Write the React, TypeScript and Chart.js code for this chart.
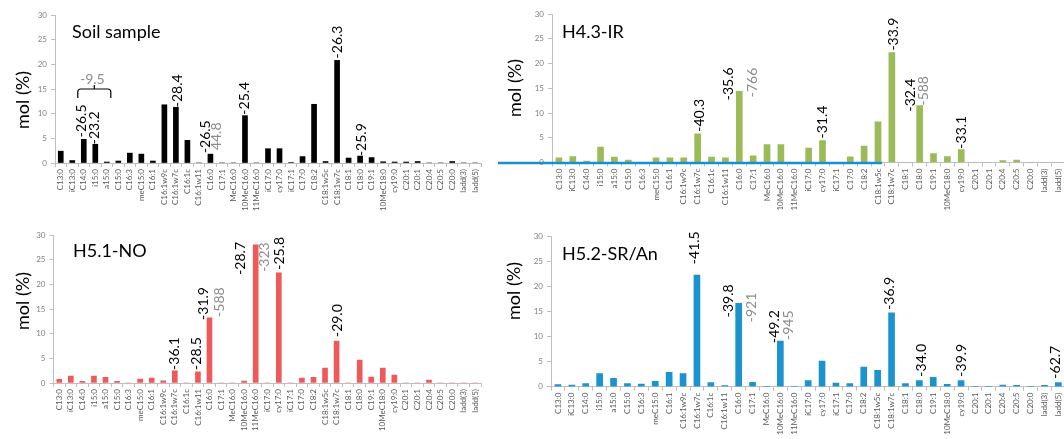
import React, { useEffect, useRef } from 'react';
import { Chart, registerables } from 'chart.js';

Chart.register(...registerables);

// ---------- data ----------
const categories = [
  'C13:0', 'iC13:0', 'C14:0', 'i15:0', 'a15:0', 'C15:0', 'C16:3', 'meC15:0', 'C16:1', 'C16:1w9c',
  'C16:1w7c', 'C16:1c', 'C16:1w11', 'C16:0', 'C17:1', 'MeC16:0', '10MeC16:0', '11MeC16:0', 'iC17:0', 'cy17:0',
  'iC17:1', 'C17:0', 'C18:2', 'C18:1w5c', 'C18:1w7c', 'C18:1', 'C18:0', 'C19:1', '10MeC18:0', 'cy19:0',
  'C20:1', 'C20:1', 'C20:4', 'C20:5', 'C20:0', 'ladd(3)', 'ladd(5)',
];

const yTicks = [0, 5, 10, 15, 20, 25, 30];

const soilValues = [2.4, 0.5, 4.8, 3.8, 0.2, 0.4, 2.0, 1.8, 0.4, 11.8, 11.3, 4.6, 0, 1.8, 0, 0, 9.6, 0, 2.9, 2.9, 0.1, 1.3, 11.9, 0.3, 20.8, 1.0, 1.4, 1.1, 0.25, 0.2, 0.2, 0.3, 0, 0, 0.3, 0, 0];
const h43Values = [0.95, 1.2, 0.3, 3.1, 1.1, 0.5, 0, 0.95, 0.95, 0.95, 5.8, 1.1, 0.95, 14.4, 1.35, 3.6, 3.6, 0, 2.9, 4.45, 0, 1.15, 3.3, 8.2, 22.2, 0, 11.5, 1.8, 1.2, 2.6, 0, 0, 0.4, 0.5, 0, 0, 0];
const h51Values = [0.75, 1.4, 0.35, 1.4, 1.15, 0.35, 0, 0.8, 1.0, 0.45, 2.45, 0, 2.25, 13.2, 0, 0, 0.4, 28.0, 0, 22.35, 0, 1.0, 1.15, 3.0, 8.5, 0, 4.65, 1.2, 3.0, 1.6, 0, 0, 0.6, 0, 0, 0, 0];
const h52Values = [0.4, 0.3, 0.6, 2.6, 1.65, 0.6, 0.5, 1.05, 2.85, 2.6, 22.2, 0.8, 0.2, 16.6, 0.85, 0, 9.1, 0, 1.2, 5.1, 0.7, 0.6, 3.9, 3.25, 14.7, 0.6, 1.2, 1.85, 0.45, 1.2, 0, 0, 0.3, 0.25, 0, 0.25, 0.8];

type Note = { cat: string; text: string; tone: 'dark' | 'light' };

const soilNotes: Note[] = [
  { cat: 'C14:0', text: '-26.5', tone: 'dark' },
  { cat: 'i15:0', text: '-23.2', tone: 'dark' },
  { cat: 'C16:1w7c', text: '-28.4', tone: 'dark' },
  { cat: 'C16:0', text: '-26.5', tone: 'dark' },
  { cat: 'C16:0', text: '44.8', tone: 'light' },
  { cat: '10MeC16:0', text: '-25.4', tone: 'dark' },
  { cat: 'C18:1w7c', text: '-26.3', tone: 'dark' },
  { cat: 'C18:0', text: '-25.9', tone: 'dark' },
];
const soilGroupNote = { from: 'C14:0', to: 'a15:0', text: '-9.5', level: 15 };

const h43Notes: Note[] = [
  { cat: 'C16:1w7c', text: '-40.3', tone: 'dark' },
  { cat: 'C16:0', text: '-35.6', tone: 'dark' },
  { cat: 'C16:0', text: '-766', tone: 'light' },
  { cat: 'cy17:0', text: '-31.4', tone: 'dark' },
  { cat: 'C18:1w7c', text: '-33.9', tone: 'dark' },
  { cat: 'C18:0', text: '-32.4', tone: 'dark' },
  { cat: 'C18:0', text: '-588', tone: 'light' },
  { cat: 'cy19:0', text: '-33.1', tone: 'dark' },
];

const h51Notes: Note[] = [
  { cat: 'C16:1w7c', text: '-36.1', tone: 'dark' },
  { cat: 'C16:1w11', text: '-28.5', tone: 'dark' },
  { cat: 'C16:0', text: '-31.9', tone: 'dark' },
  { cat: 'C16:0', text: '-588', tone: 'light' },
  { cat: '11MeC16:0', text: '-28.7', tone: 'dark' },
  { cat: '11MeC16:0', text: '-323', tone: 'light' },
  { cat: 'cy17:0', text: '-25.8', tone: 'dark' },
  { cat: 'C18:1w7c', text: '-29.0', tone: 'dark' },
];

const h52Notes: Note[] = [
  { cat: 'C16:1w7c', text: '-41.5', tone: 'dark' },
  { cat: 'C16:0', text: '-39.8', tone: 'dark' },
  { cat: 'C16:0', text: '-921', tone: 'light' },
  { cat: '10MeC16:0', text: '-49.2', tone: 'dark' },
  { cat: '10MeC16:0', text: '-945', tone: 'light' },
  { cat: 'C18:1w7c', text: '-36.9', tone: 'dark' },
  { cat: 'C18:0', text: '-34.0', tone: 'dark' },
  { cat: 'cy19:0', text: '-39.9', tone: 'dark' },
  { cat: 'ladd(5)', text: '-62.7', tone: 'dark' },
];

// ---------- layout (pixel placement only) ----------
// note offsets: [dx from bar centre, gap between bar top and text start]
const soilNoteOffsets = [[-2, 2], [-1, 0], [2, 0], [-5, 1], [6, 4], [0, 1], [0, 2], [1, 0]];
const h43NoteOffsets = [[2, 2], [-11, -9], [13, -6], [0, 2], [2, 2], [-9, -6], [4, 0], [0, 1]];
const h51NoteOffsets = [[0, 1], [-1, 2], [-6, -2], [10, 1], [-15, -30], [9, -27], [1, 3], [1, 4]];
const h52NoteOffsets = [[-2, 11], [-10, -14], [13, -19], [-6, -2], [8, 1], [-2, 3], [2, 4], [0, 4], [-3, 4]];

const FONT = 'Lato, "Open Sans", "DejaVu Sans", sans-serif';
const AXIS_COLOR = '#bfbfbf';
const DARK_NOTE = '#000000';
const LIGHT_NOTE = '#8c8c8c';

type PanelCfg = {
  key: string;
  title: string;
  values: number[];
  color: string;
  notes: Note[];
  offsets: number[][];
  box: { left: number; top: number; width: number; height: number };
  area: { left: number; right: number; top: number; bottom: number };
  titlePos: [number, number];
  yTitlePos: [number, number];
  barWidth: number;
  group?: typeof soilGroupNote;
  underline?: { from: number; toCat: string; color: string };
};

const panels: PanelCfg[] = [
  {
    key: 'soil', title: 'Soil sample', values: soilValues, color: '#000000',
    notes: soilNotes, offsets: soilNoteOffsets,
    box: { left: 0, top: 0, width: 490, height: 220 },
    area: { left: 55, right: 481, top: 15, bottom: 163 },
    titlePos: [72, 32], yTitlePos: [23, 100], barWidth: 5, group: soilGroupNote,
  },
  {
    key: 'h43', title: 'H4.3-IR', values: h43Values, color: '#9bbb59',
    notes: h43Notes, offsets: h43NoteOffsets,
    box: { left: 490, top: 0, width: 580, height: 220 },
    area: { left: 62, right: 576, top: 14, bottom: 162.5 },
    titlePos: [72, 32], yTitlePos: [25, 88], barWidth: 6,
    underline: { from: -54, toCat: 'C18:1w5c', color: '#1a8fd0' },
  },
  {
    key: 'h51', title: 'H5.1-NO', values: h51Values, color: '#ee5a5a',
    notes: h51Notes, offsets: h51NoteOffsets,
    box: { left: 0, top: 220, width: 490, height: 219 },
    area: { left: 53.5, right: 481, top: 15, bottom: 163 },
    titlePos: [73, 31], yTitlePos: [23, 81], barWidth: 5,
  },
  {
    key: 'h52', title: 'H5.2-SR/An', values: h52Values, color: '#1b93d0',
    notes: h52Notes, offsets: h52NoteOffsets,
    box: { left: 490, top: 220, width: 580, height: 219 },
    area: { left: 61, right: 576.4, top: 16, bottom: 166.7 },
    titlePos: [72, 34], yTitlePos: [24, 71], barWidth: 6,
  },
];

function makeOverlay(cfg: PanelCfg) {
  return {
    id: 'overlay_' + cfg.key,
    afterDatasetsDraw(chart: any) {
      const ctx: CanvasRenderingContext2D = chart.ctx;
      const xs = chart.scales.x;
      const ys = chart.scales.y;
      const xOf = (cat: string) => xs.getPixelForValue(categories.indexOf(cat));
      const valOf = (cat: string) => cfg.values[categories.indexOf(cat)];
      ctx.save();

      // underline artefact
      if (cfg.underline) {
        const y0 = ys.getPixelForValue(0);
        ctx.strokeStyle = cfg.underline.color;
        ctx.lineWidth = 2.5;
        ctx.beginPath();
        ctx.moveTo(chart.chartArea.left + cfg.underline.from, y0 + 0.5);
        ctx.lineTo(xOf(cfg.underline.toCat) + 4, y0 + 0.5);
        ctx.stroke();
      }

      // panel title
      ctx.fillStyle = '#000';
      ctx.font = `18px ${FONT}`;
      ctx.textAlign = 'left';
      ctx.textBaseline = 'middle';
      ctx.fillText(cfg.title, cfg.titlePos[0], cfg.titlePos[1]);

      // y axis title
      ctx.save();
      ctx.translate(cfg.yTitlePos[0], cfg.yTitlePos[1]);
      ctx.rotate(-Math.PI / 2);
      ctx.textAlign = 'center';
      ctx.textBaseline = 'middle';
      ctx.font = `18px ${FONT}`;
      ctx.fillText('mol (%)', 0, 0);
      ctx.restore();

      // rotated notes
      ctx.font = `14px ${FONT}`;
      cfg.notes.forEach((n, i) => {
        const [dx, gap] = cfg.offsets[i] || [0, 2];
        const x = xOf(n.cat) + dx;
        const y = ys.getPixelForValue(valOf(n.cat)) - gap;
        ctx.save();
        ctx.translate(x, y);
        ctx.rotate(-Math.PI / 2);
        ctx.textAlign = 'left';
        ctx.textBaseline = 'middle';
        ctx.fillStyle = n.tone === 'dark' ? DARK_NOTE : LIGHT_NOTE;
        ctx.fillText(n.text, 0, 0);
        ctx.restore();
      });

      // grouped note with bracket
      if (cfg.group) {
        const g = cfg.group;
        const x1 = xOf(g.from) - 6;
        const x2 = xOf(g.to) + 4;
        const yl = ys.getPixelForValue(g.level);
        const xm = (x1 + x2) / 2;
        ctx.strokeStyle = '#000';
        ctx.lineWidth = 1.2;
        ctx.beginPath();
        ctx.moveTo(x1, yl + 9);
        ctx.lineTo(x1, yl + 3);
        ctx.quadraticCurveTo(x1, yl, x1 + 3, yl);
        ctx.lineTo(x2 - 3, yl);
        ctx.quadraticCurveTo(x2, yl, x2, yl + 3);
        ctx.lineTo(x2, yl + 9);
        ctx.moveTo(xm, yl);
        ctx.lineTo(xm, yl - 4);
        ctx.stroke();
        ctx.fillStyle = LIGHT_NOTE;
        ctx.font = `14px ${FONT}`;
        ctx.textAlign = 'center';
        ctx.textBaseline = 'alphabetic';
        ctx.fillText(g.text, xm - 2, yl - 5);
      }
      ctx.restore();
    },
  };
}

function Panel({ cfg }: { cfg: PanelCfg }) {
  const ref = useRef<HTMLCanvasElement | null>(null);
  useEffect(() => {
    if (!ref.current) return;
    const { box, area } = cfg;
    const yWidth = area.left;
    const xHeight = box.height - area.bottom;
    const chart = new Chart(ref.current, {
      type: 'bar',
      data: {
        labels: categories,
        datasets: [
          {
            data: cfg.values,
            backgroundColor: cfg.color,
            borderWidth: 0,
            barThickness: cfg.barWidth,
          },
        ],
      },
      options: {
        responsive: false,
        maintainAspectRatio: false,
        animation: false,
        layout: { padding: { left: 0, top: area.top, right: box.width - area.right, bottom: 0 } },
        plugins: { legend: { display: false }, tooltip: { enabled: false }, title: { display: false } },
        scales: {
          x: {
            offset: true,
            grid: { display: true, drawOnChartArea: false, drawTicks: true, tickLength: 4, color: AXIS_COLOR, offset: true },
            border: { display: true, color: AXIS_COLOR },
            ticks: {
              autoSkip: false,
              maxRotation: 90,
              minRotation: 90,
              padding: 2,
              color: '#595959',
              font: { family: FONT, size: 8 },
            },
            afterFit: (s: any) => { s.height = xHeight; },
          },
          y: {
            min: 0,
            max: 30,
            afterBuildTicks: (s: any) => { s.ticks = yTicks.map((v) => ({ value: v })); },
            grid: { display: true, drawOnChartArea: false, drawTicks: true, tickLength: 4, color: AXIS_COLOR },
            border: { display: true, color: AXIS_COLOR },
            ticks: { padding: 4, color: '#808080', font: { family: FONT, size: 8 } },
            afterFit: (s: any) => { s.width = yWidth; },
          },
        },
      },
      plugins: [makeOverlay(cfg)],
    } as any);
    return () => chart.destroy();
  }, [cfg]);
  const { box } = cfg;
  return (
    <canvas
      ref={ref}
      width={box.width}
      height={box.height}
      style={{ position: 'absolute', left: box.left, top: box.top, width: box.width, height: box.height }}
    />
  );
}

export default function App() {
  return (
    <div
      style={{
        position: 'fixed', left: 0, top: 0, width: 1064, height: 439,
        overflow: 'hidden', background: '#ffffff',
      }}
    >
      {panels.map((p) => (
        <Panel key={p.key} cfg={p} />
      ))}
    </div>
  );
}
